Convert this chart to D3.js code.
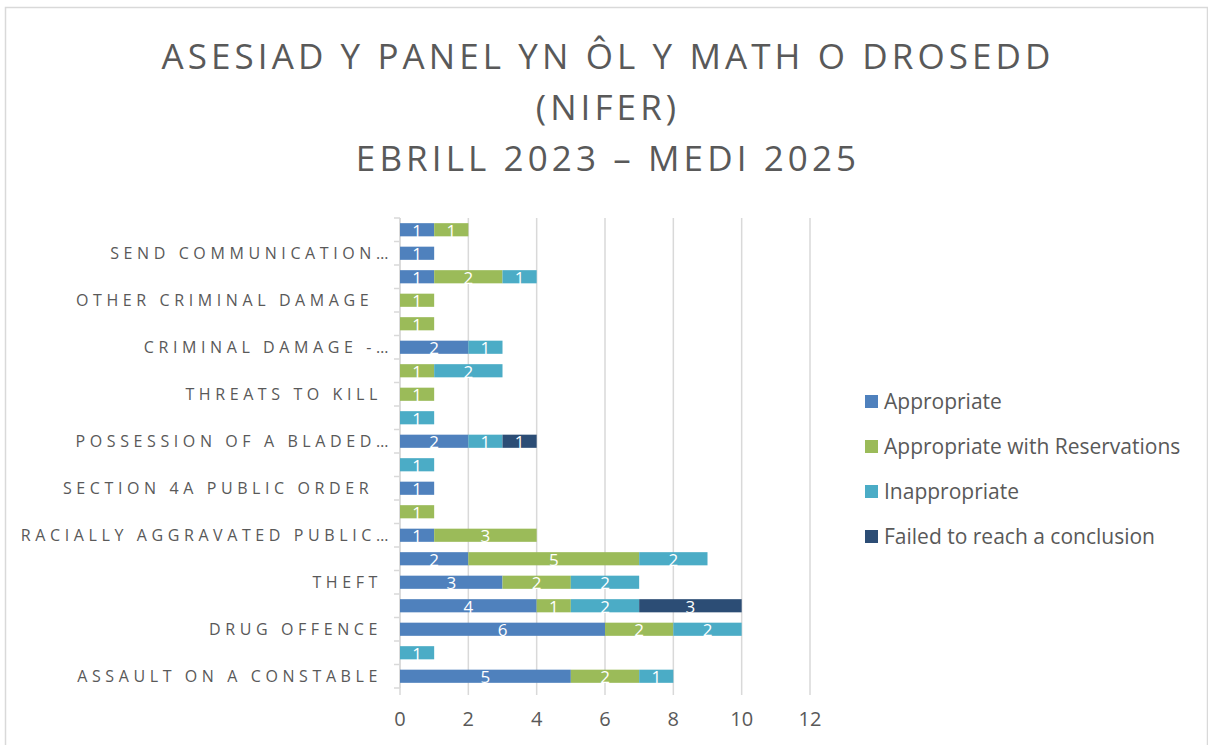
<!DOCTYPE html>
<html>
<head>
<meta charset="utf-8">
<style>
  body { margin: 0; background: #fff; }
  svg text { font-family: "Open Sans", "DejaVu Sans", sans-serif; white-space: pre; }
</style>
</head>
<body>
<svg width="1208" height="745"></svg>
<script src="https://d3js.org/d3.v7.min.js"></script>
<script>

var svg = d3.select("svg"),
    width = +svg.attr("width"),
    height = +svg.attr("height");

// categories, bottom to top (Excel order); only every other one gets a label
var categories = [
  "ASSAULT ON A CONSTABLE",
  "COMMON ASSAULT",
  "DRUG OFFENCE",
  "PUBLIC ORDER",
  "THEFT",
  "ASSAULT OCCASIONING ABH",
  "RACIALLY AGGRAVATED PUBLIC…",
  "HARASSMENT",
  "SECTION 4A PUBLIC ORDER ",
  "STALKING",
  "POSSESSION OF A BLADED…",
  "POSSESSION OF AN OFFENSIVE WEAPON",
  "THREATS TO KILL",
  "SECTION 5 PUBLIC ORDER",
  "CRIMINAL DAMAGE -…",
  "MALICIOUS COMMUNICATIONS",
  "OTHER CRIMINAL DAMAGE ",
  "BATTERY",
  "SEND COMMUNICATION…",
  "RACIALLY AGGRAVATED HARASSMENT"
];

var seriesNames = ["Appropriate", "Appropriate with Reservations", "Inappropriate", "Failed to reach a conclusion"];
var seriesColors = ["#4f81bd", "#9bbb59", "#4bacc6", "#2c4d75"];

var appropriate   = [5, 0, 6, 4, 3, 2, 1, 0, 1, 0, 2, 0, 0, 0, 2, 0, 0, 1, 1, 1];
var reservations  = [2, 0, 2, 1, 2, 5, 3, 1, 0, 0, 0, 0, 1, 1, 0, 1, 1, 2, 0, 1];
var inappropriate = [1, 1, 2, 2, 2, 2, 0, 0, 0, 1, 1, 1, 0, 2, 1, 0, 0, 1, 0, 0];
var failed        = [0, 0, 0, 3, 0, 0, 0, 0, 0, 0, 1, 0, 0, 0, 0, 0, 0, 0, 0, 0];

var xTicks = [0, 2, 4, 6, 8, 10, 12];
var titleLines = ["ASESIAD Y PANEL YN ÔL Y MATH O DROSEDD", "(NIFER)", "EBRILL 2023 – MEDI 2025"];

var table = categories.map(function(c, i) {
  return {
    cat: c,
    "Appropriate": appropriate[i],
    "Appropriate with Reservations": reservations[i],
    "Inappropriate": inappropriate[i],
    "Failed to reach a conclusion": failed[i]
  };
});

var textColor = "#595959",
    gridColor = "#d9d9d9";

// chart border
svg.append("rect")
    .attr("x", 5.5).attr("y", 7.5)
    .attr("width", width - 6).attr("height", height)
    .attr("fill", "none")
    .attr("stroke", gridColor)
    .attr("stroke-width", 1.5);

// title
svg.append("g").selectAll("text")
  .data(titleLines)
  .enter().append("text")
    .attr("x", 608)
    .attr("y", function(d, i) { return 69 + i * 51; })
    .attr("text-anchor", "middle")
    .attr("fill", textColor)
    .attr("font-size", 35)
    .attr("letter-spacing", 4.1)
    .text(function(d) { return d; });

var x = d3.scaleLinear()
    .domain([0, 12])
    .range([400, 810]);

var y = d3.scaleBand()
    .domain(d3.range(categories.length))
    .range([688, 218])
    .paddingInner(0.44)
    .paddingOuter(0.22);

var stack = d3.stack().keys(seriesNames);
var layers = stack(table);

// gridlines, with small tick marks below the plot
svg.append("g").selectAll("line")
  .data(xTicks)
  .enter().append("line")
    .attr("x1", function(d) { return x(d); })
    .attr("x2", function(d) { return x(d); })
    .attr("y1", 218)
    .attr("y2", 695)
    .attr("stroke", gridColor)
    .attr("stroke-width", 1.5);

// category axis: line + boundary ticks
var yAxis = svg.append("g");
yAxis.append("line")
    .attr("x1", x(0)).attr("x2", x(0))
    .attr("y1", 218).attr("y2", 688)
    .attr("stroke", gridColor).attr("stroke-width", 1.5);
yAxis.selectAll("line.tick")
  .data(d3.range(categories.length + 1))
  .enter().append("line")
    .attr("class", "tick")
    .attr("x1", x(0) - 6).attr("x2", x(0))
    .attr("y1", function(i) { return 688 - i * (470 / categories.length); })
    .attr("y2", function(i) { return 688 - i * (470 / categories.length); })
    .attr("stroke", gridColor).attr("stroke-width", 1.5);

yAxis.selectAll("text")
  .data(categories.filter(function(d, i) { return i % 2 === 0; }))
  .enter().append("text")
    .attr("x", function(d) { return /…$/.test(d) ? 393 : 382; })
    .attr("y", function(d) { return y(categories.indexOf(d)) + y.bandwidth() / 2; })
    .attr("dy", "0.36em")
    .attr("text-anchor", "end")
    .attr("fill", textColor)
    .attr("font-size", 16)
    .attr("letter-spacing", 4.6)
    .text(function(d) { return d; });

// x tick labels
svg.append("g").selectAll("text")
  .data(xTicks)
  .enter().append("text")
    .attr("x", function(d) { return x(d); })
    .attr("y", 726)
    .attr("text-anchor", "middle")
    .attr("fill", textColor)
    .attr("font-size", 20)
    .text(function(d) { return d; });

// bars
var layer = svg.append("g").selectAll("g")
  .data(layers)
  .enter().append("g")
    .attr("fill", function(d, i) { return seriesColors[i]; });

layer.selectAll("rect")
  .data(function(d) { return d; })
  .enter().append("rect")
    .attr("x", function(d) { return x(d[0]); })
    .attr("y", function(d, i) { return y(i); })
    .attr("width", function(d) { return x(d[1]) - x(d[0]); })
    .attr("height", y.bandwidth());

// data labels
layer.selectAll("text")
  .data(function(d) { return d.filter(function(s) { return s[1] - s[0] > 0; })
      .map(function(s) { return { s: s, i: table.indexOf(s.data) }; }); })
  .enter().append("text")
    .attr("x", function(d) { return (x(d.s[0]) + x(d.s[1])) / 2; })
    .attr("y", function(d) { return y(d.i) + y.bandwidth() / 2; })
    .attr("dy", "0.42em")
    .attr("text-anchor", "middle")
    .attr("fill", "#fff")
    .attr("font-size", 17)
    .text(function(d) { return d.s[1] - d.s[0]; });

// legend
var legend = svg.append("g").selectAll("g")
  .data(seriesNames)
  .enter().append("g")
    .attr("transform", function(d, i) { return "translate(865," + (401 + i * 45) + ")"; });

legend.append("rect")
    .attr("x", 0).attr("y", -6)
    .attr("width", 13).attr("height", 13)
    .attr("fill", function(d, i) { return seriesColors[i]; });

legend.append("text")
    .attr("x", 19)
    .attr("dy", "0.36em")
    .attr("fill", textColor)
    .attr("font-size", 21)
    .text(function(d) { return d; });

</script>
</body>
</html>
